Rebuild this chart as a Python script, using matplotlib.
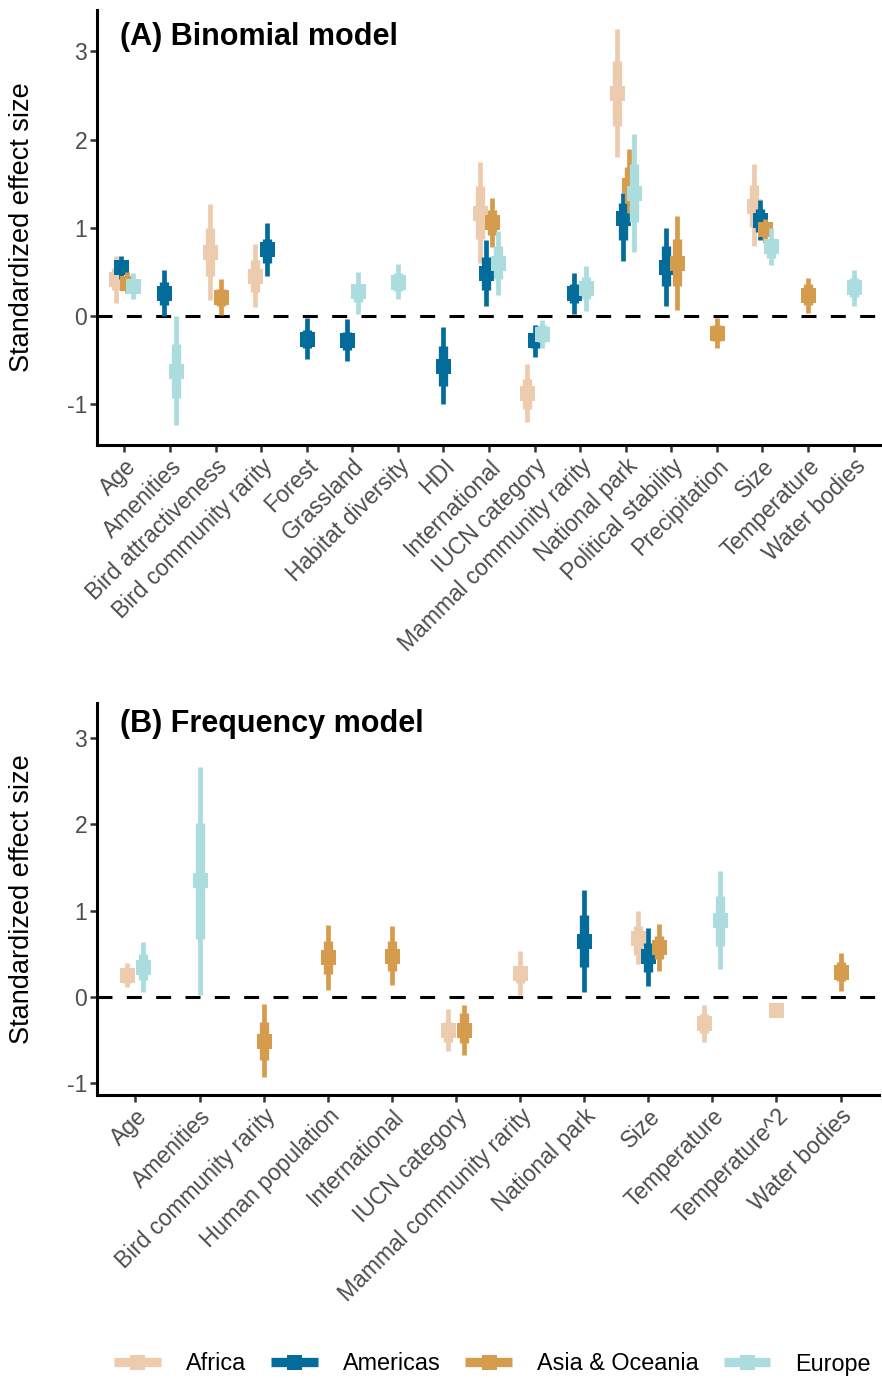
import matplotlib
matplotlib.use("Agg")
import matplotlib.pyplot as plt
from matplotlib.lines import Line2D
from matplotlib.legend_handler import HandlerTuple

plt.rcParams["font.family"] = ["Liberation Sans", "DejaVu Sans"]
plt.rcParams["axes.unicode_minus"] = False

REGIONS = ["Africa", "Americas", "Asia & Oceania", "Europe"]
COLORS = ["#ECCBAE", "#046C9A", "#D69C4E", "#ABDDDE"]

# ---- (A) binomial model ----
binom_terms = [
    "Age", "Amenities", "Bird attractiveness", "Bird community rarity",
    "Forest", "Grassland", "Habitat diversity", "HDI", "International",
    "IUCN category", "Mammal community rarity", "National park",
    "Political stability", "Precipitation", "Size", "Temperature",
    "Water bodies",
]
# term, median, 66% low, 66% high, 95% low, 95% high
binom_africa = [
    ("Age", 0.42, 0.30, 0.55, 0.15, 0.68),
    ("Bird attractiveness", 0.73, 0.45, 1.00, 0.18, 1.27),
    ("Bird community rarity", 0.46, 0.27, 0.64, 0.10, 0.82),
    ("International", 1.17, 0.88, 1.48, 0.60, 1.75),
    ("IUCN category", -0.87, -1.05, -0.71, -1.20, -0.54),
    ("National park", 2.53, 2.16, 2.89, 1.80, 3.25),
    ("Size", 1.25, 1.01, 1.49, 0.79, 1.72),
]
binom_americas = [
    ("Age", 0.56, 0.48, 0.64, 0.42, 0.68),
    ("Amenities", 0.26, 0.13, 0.39, 0.00, 0.52),
    ("Bird community rarity", 0.76, 0.60, 0.88, 0.45, 1.06),
    ("Forest", -0.26, -0.36, -0.155, -0.49, -0.02),
    ("Grassland", -0.27, -0.38, -0.18, -0.51, -0.03),
    ("HDI", -0.56, -0.79, -0.34, -1.00, -0.125),
    ("International", 0.49, 0.30, 0.67, 0.11, 0.86),
    ("IUCN category", -0.27, -0.36, -0.19, -0.46, -0.10),
    ("Mammal community rarity", 0.26, 0.15, 0.37, 0.03, 0.49),
    ("National park", 1.11, 0.86, 1.28, 0.62, 1.40),
    ("Political stability", 0.56, 0.34, 0.79, 0.12, 1.00),
    ("Size", 1.09, 0.95, 1.22, 0.86, 1.32),
]
binom_asia = [
    ("Age", 0.38, 0.32, 0.45, 0.26, 0.50),
    ("Bird attractiveness", 0.22, 0.12, 0.31, 0.01, 0.42),
    ("International", 1.07, 0.92, 1.20, 0.78, 1.34),
    ("National park", 1.49, 1.28, 1.69, 1.17, 1.89),
    ("Political stability", 0.60, 0.34, 0.88, 0.07, 1.14),
    ("Precipitation", -0.19, -0.28, -0.10, -0.36, -0.02),
    ("Size", 0.99, 0.91, 1.06, 0.83, 1.10),
    ("Temperature", 0.24, 0.13, 0.36, 0.04, 0.43),
]
binom_europe = [
    ("Age", 0.34, 0.27, 0.41, 0.20, 0.49),
    ("Amenities", -0.62, -0.93, -0.31, -1.23, 0.00),
    ("Grassland", 0.28, 0.16, 0.37, 0.03, 0.50),
    ("Habitat diversity", 0.39, 0.28, 0.49, 0.19, 0.59),
    ("International", 0.60, 0.42, 0.79, 0.24, 0.96),
    ("IUCN category", -0.20, -0.29, -0.10, -0.36, -0.04),
    ("Mammal community rarity", 0.32, 0.20, 0.44, 0.06, 0.57),
    ("National park", 1.40, 1.07, 1.73, 0.73, 2.06),
    ("Size", 0.79, 0.66, 0.87, 0.58, 1.00),
    ("Water bodies", 0.33, 0.22, 0.43, 0.12, 0.52),
]

# ---- (B) frequency model ----
freq_terms = [
    "Age", "Amenities", "Bird community rarity", "Human population",
    "International", "IUCN category", "Mammal community rarity",
    "National park", "Size", "Temperature", "Temperature^2", "Water bodies",
]
freq_africa = [
    ("Age", 0.25, 0.155, 0.33, 0.11, 0.39),
    ("IUCN category", -0.39, -0.52, -0.29, -0.63, -0.14),
    ("Mammal community rarity", 0.28, 0.16, 0.36, 0.02, 0.53),
    ("Size", 0.68, 0.48, 0.82, 0.38, 0.99),
    ("Temperature", -0.31, -0.42, -0.20, -0.53, -0.09),
    ("Temperature^2", -0.155, -0.20, -0.11, -0.24, -0.07),
]
freq_americas = [
    ("National park", 0.65, 0.34, 0.95, 0.05, 1.245),
    ("Size", 0.47, 0.29, 0.63, 0.12, 0.80),
]
freq_asia = [
    ("Bird community rarity", -0.51, -0.73, -0.29, -0.93, -0.08),
    ("Human population", 0.46, 0.26, 0.65, 0.08, 0.83),
    ("International", 0.475, 0.30, 0.65, 0.135, 0.82),
    ("IUCN category", -0.39, -0.54, -0.19, -0.68, -0.09),
    ("Size", 0.58, 0.44, 0.71, 0.30, 0.85),
    ("Water bodies", 0.29, 0.18, 0.40, 0.07, 0.51),
]
freq_europe = [
    ("Age", 0.35, 0.20, 0.50, 0.06, 0.64),
    ("Amenities", 1.35, 0.67, 2.02, 0.02, 2.67),
    ("Temperature", 0.89, 0.59, 1.17, 0.32, 1.46),
]

W = 882
H = 1378
THIN = 3.4
THICK = 6.7
POINT = 10.8


def draw_panel(ax, terms, rows, ylim, title):
    # which regions show up for each term, for dodging within the category
    present = {t: [k for k, r in enumerate(rows) if any(p[0] == t for p in r)]
               for t in terms}
    for k, region_rows in enumerate(rows):
        col = COLORS[k]
        for term, est, lo66, hi66, lo95, hi95 in region_rows:
            grp = present[term]
            n = len(grp)
            x = terms.index(term) - 0.25 + (grp.index(k) + 0.5) * 0.5 / n
            ax.plot([x, x], [lo95, hi95], color=col, lw=THIN,
                    solid_capstyle="butt", zorder=3)
            ax.plot([x, x], [lo66, hi66], color=col, lw=THICK,
                    solid_capstyle="butt", zorder=3)
            ax.plot(x, est, "s", color=col, ms=POINT, mew=0, zorder=3)

    ax.axhline(0, color="black", lw=2.2, ls=(0, (4.9, 4.7)), zorder=2)
    ax.set_xlim(-0.6, len(terms) - 0.4)
    ax.set_ylim(*ylim)
    ax.set_yticks([-1, 0, 1, 2, 3])
    ax.set_xticks(range(len(terms)))
    ax.set_xticklabels(terms, rotation=45, ha="right", va="top",
                       rotation_mode="anchor")
    for s in ["top", "right"]:
        ax.spines[s].set_visible(False)
    for s in ["left", "bottom"]:
        ax.spines[s].set_linewidth(2.2)
        ax.spines[s].set_color("black")
    ax.tick_params(length=5, width=1.8, color="#333333", labelcolor="#4D4D4D",
                   labelsize=16.5, pad=2)
    ax.text(0.0293, 3.07, title, transform=ax.get_yaxis_transform(),
            fontsize=22, fontweight="bold", va="baseline", ha="left")


fig = plt.figure(figsize=(W / 100, H / 100), dpi=100)
ax_a = fig.add_axes([97 / W, 1 - 445 / H, 784 / W, 435 / H])
ax_b = fig.add_axes([97 / W, 1 - 1095 / H, 782 / W, 392 / H])

draw_panel(ax_a, binom_terms,
           [binom_africa, binom_americas, binom_asia, binom_europe],
           (-1.46, 3.47), "(A) Binomial model")
draw_panel(ax_b, freq_terms,
           [freq_africa, freq_americas, freq_asia, freq_europe],
           (-1.14, 3.41), "(B) Frequency model")

for yc in [227.5, 899]:
    fig.text(22.5 / W, 1 - yc / H, "Standardized effect size", rotation=90,
             ha="center", va="center", fontsize=19.5)

handles = []
for c in COLORS:
    handles.append((Line2D([], [], color=c, lw=THICK, solid_capstyle="butt"),
                    Line2D([], [], color=c, marker="s", ms=POINT, mew=0,
                           ls="none")))
fig.legend(handles, REGIONS, loc="center", bbox_to_anchor=(492.5 / W, 1 - 1364 / H),
           ncol=4, frameon=False, fontsize=16.8, handlelength=2.0,
           handletextpad=1.07, columnspacing=1.07,
           handler_map={tuple: HandlerTuple(ndivide=1)})

fig.savefig("out.png", dpi=100)
